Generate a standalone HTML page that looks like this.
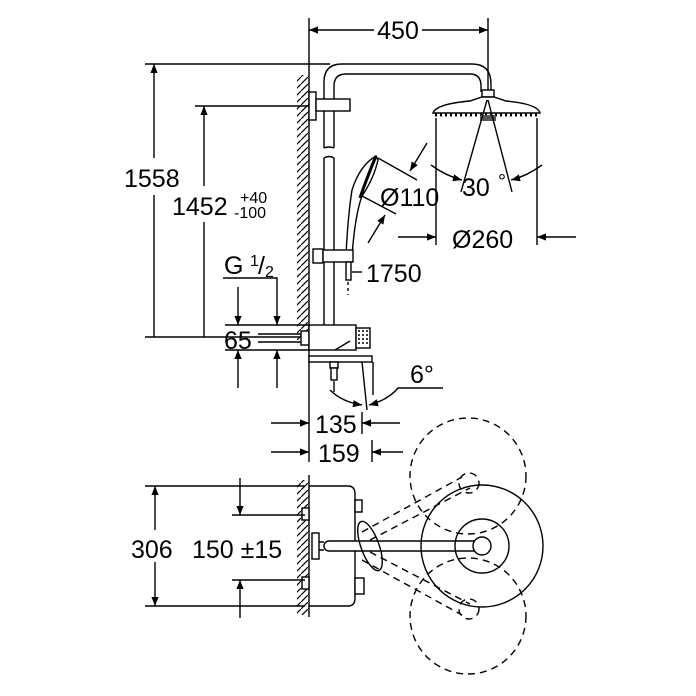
<!DOCTYPE html>
<html><head><style>
html,body{margin:0;padding:0;background:#fff;}
svg{display:block;font-family:"Liberation Sans",Arial,sans-serif;}
</style></head><body>
<svg width="696" height="696" viewBox="0 0 696 696" xmlns="http://www.w3.org/2000/svg">
<defs>
<marker id="a" viewBox="0 0 10 10" refX="10" refY="5" markerWidth="16" markerHeight="9" orient="auto-start-reverse" markerUnits="userSpaceOnUse">
<path d="M0,1 L10,5 L0,9 Z" fill="#000"/></marker>
<pattern id="h" width="7" height="7" patternUnits="userSpaceOnUse">
<path d="M0,7 L7,0" stroke="#000" stroke-width="1.2"/></pattern>
</defs>
<g stroke="#000" stroke-width="1.4" fill="none">
<line x1="309" y1="18" x2="309" y2="462"/>
<rect x="297" y="75" width="12" height="265" fill="url(#h)" stroke="none"/>
<line x1="488" y1="18" x2="488" y2="92"/>
<line x1="309" y1="30" x2="374" y2="30" marker-start="url(#a)"/>
<line x1="422" y1="30" x2="488" y2="30" marker-end="url(#a)"/>
<line x1="145" y1="64" x2="330" y2="64"/>
<line x1="145" y1="337" x2="300" y2="337"/>
<line x1="154" y1="64" x2="154" y2="158" marker-start="url(#a)"/>
<line x1="154" y1="195" x2="154" y2="337"/>
<line x1="195" y1="106" x2="312" y2="106"/>
<line x1="204" y1="106" x2="204" y2="186" marker-start="url(#a)"/>
<line x1="204" y1="222" x2="204" y2="337"/>
<path d="M324,148 L324,82 Q324,64 342,64 L472,64 Q491,64 491,84 L491,92"/>
<path d="M334,148 L334,86 Q334,74 346,74 L470,74 Q481,74 481,86 L481,92"/>
<path d="M324,158 L324,325 M334,158 L334,325"/>
<path d="M324,148 Q329,146 334,148 M324,158 Q329,155 334,158"/>
<rect x="309" y="92" width="7" height="28" fill="#fff"/>
<rect x="316" y="99" width="34" height="12" fill="#fff"/>
<rect x="482" y="90" width="12" height="7" fill="#fff"/>
<path d="M433,113 Q436,104 470,101 L482,97 L494,97 L506,101 Q538,104 540,113 Z" fill="#fff"/>
<path d="M435,115 L538,115" stroke-width="3" stroke-dasharray="2 3"/>
<rect x="480" y="115" width="16" height="6" fill="#555" stroke="none"/>
<line x1="487" y1="100" x2="461" y2="192"/>
<line x1="488" y1="100" x2="512" y2="192"/>
<line x1="436" y1="118" x2="436" y2="245"/>
<line x1="537" y1="118" x2="537" y2="245"/>
<path d="M431,165 Q446,176 462,180" marker-end="url(#a)"/>
<path d="M542,165 Q527,176 511,180" marker-end="url(#a)"/>
<line x1="398" y1="237" x2="436" y2="237" marker-end="url(#a)"/>
<line x1="576" y1="237" x2="537" y2="237" marker-end="url(#a)"/>
<path d="M376,156 Q360,165 352,190 Q348,215 346,255 L352,256 Q355,215 362,196 Q374,178 378,160 Z" fill="#fff"/>
<path d="M376,156 Q366,180 360,198" stroke-width="3"/>
<line x1="378" y1="158" x2="417" y2="180"/>
<line x1="362" y1="196" x2="396" y2="214"/>
<line x1="427" y1="143" x2="410" y2="171" marker-end="url(#a)"/>
<line x1="368" y1="243" x2="385" y2="215" marker-end="url(#a)"/>
<rect x="313" y="249" width="10" height="14" fill="#fff"/>
<rect x="323" y="250" width="30" height="12" fill="#fff"/>
<rect x="346" y="262" width="5" height="18" fill="#fff"/>
<line x1="348" y1="282" x2="348" y2="295" stroke-dasharray="3 3"/>
<line x1="352" y1="272" x2="362" y2="272"/>
<path d="M223,278 L277,278 L277,325" marker-end="url(#a)"/>
<line x1="225" y1="325" x2="310" y2="325"/>
<line x1="225" y1="350" x2="310" y2="350"/>
<line x1="238" y1="287" x2="238" y2="325" marker-end="url(#a)"/>
<line x1="238" y1="388" x2="238" y2="350" marker-end="url(#a)"/>
<line x1="277" y1="388" x2="277" y2="350" marker-end="url(#a)"/>
<line x1="258" y1="334" x2="303" y2="334"/>
<line x1="258" y1="342" x2="303" y2="342"/>
<rect x="301" y="331" width="8" height="14" fill="#fff"/>
<rect x="309" y="325" width="47" height="25" fill="#fff"/>
<path d="M335,350 L350,341"/>
<rect x="356" y="328" width="14" height="20" fill="#fff"/>
<path d="M358,331 h10 M358,335 h10 M358,339 h10 M358,343 h10" stroke-dasharray="2 2" stroke-width="1.5"/>
<rect x="309" y="356" width="63" height="6" fill="#fff"/>
<rect x="330" y="362" width="8" height="6" fill="#fff"/>
<rect x="331" y="368" width="6" height="12" fill="#fff"/>
<line x1="334" y1="381" x2="334" y2="392"/>
<line x1="362" y1="362" x2="367" y2="410"/>
<line x1="373" y1="362" x2="373" y2="395"/>
<path d="M330,390 Q342,402 362,405" marker-end="url(#a)"/>
<path d="M443,388 L398,388 Q388,400 369,405" marker-end="url(#a)"/>
<line x1="271" y1="423" x2="309" y2="423" marker-end="url(#a)"/>
<line x1="400" y1="423" x2="362" y2="423" marker-end="url(#a)"/>
<line x1="362" y1="412" x2="362" y2="434"/>
<line x1="271" y1="452" x2="309" y2="452" marker-end="url(#a)"/>
<line x1="403" y1="452" x2="372" y2="452" marker-end="url(#a)"/>
<line x1="372" y1="440" x2="372" y2="462"/>
<line x1="309" y1="475" x2="309" y2="617"/>
<rect x="297" y="480" width="12" height="135" fill="url(#h)" stroke="none"/>
<path d="M309,486 L348,486 Q355,486 355,494 L355,598 Q355,606 348,606 L309,606"/>
<rect x="355" y="500" width="7" height="12" fill="#fff"/>
<rect x="355" y="578" width="9" height="16" fill="#fff"/>
<rect x="302" y="508" width="7" height="12" fill="#fff"/>
<rect x="302" y="577" width="7" height="12" fill="#fff"/>
<rect x="312" y="533" width="7" height="26" fill="#fff"/>
<path d="M319,542 L324,542 M319,550 L324,550"/>
<rect x="324" y="541" width="158" height="10" rx="5" fill="#fff"/>
<ellipse cx="370" cy="546" rx="9" ry="26" transform="rotate(-20 370 546)"/>
<circle cx="482" cy="546" r="61"/>
<circle cx="482" cy="546" r="27"/>
<circle cx="482" cy="546" r="9" fill="#fff"/>
<g stroke-dasharray="7 5">
<circle cx="468" cy="476" r="58"/>
<circle cx="468" cy="616" r="58"/>
<circle cx="469" cy="483" r="10"/>
<circle cx="469" cy="609" r="10"/>
<line x1="362" y1="532" x2="462" y2="477"/>
<line x1="370" y1="540" x2="470" y2="488"/>
<line x1="362" y1="560" x2="462" y2="615"/>
<line x1="370" y1="552" x2="470" y2="604"/>
</g>
<line x1="145" y1="486" x2="305" y2="486"/>
<line x1="145" y1="606" x2="305" y2="606"/>
<line x1="155" y1="486" x2="155" y2="530" marker-start="url(#a)"/>
<line x1="155" y1="562" x2="155" y2="606" marker-end="url(#a)"/>
<line x1="232" y1="515" x2="305" y2="515"/>
<line x1="232" y1="580" x2="305" y2="580"/>
<line x1="240" y1="478" x2="240" y2="515" marker-end="url(#a)"/>
<line x1="240" y1="618" x2="240" y2="580" marker-end="url(#a)"/>
</g>
<g font-size="25" fill="#000">
<text x="398" y="39" text-anchor="middle">450</text>
<text x="124" y="187">1558</text>
<text x="172" y="215">1452</text>
<text x="240" y="203" font-size="16">+40</text>
<text x="234" y="218" font-size="16">-100</text>
<text x="224" y="274">G</text>
<text x="250" y="266" font-size="16">1</text><text x="258" y="274">/</text><text x="265" y="277" font-size="16">2</text>
<text x="224" y="349">65</text>
<text x="380" y="206">Ø110</text>
<text x="462" y="196">30</text>
<text x="498" y="188" font-size="20">°</text>
<text x="452" y="248">Ø260</text>
<text x="366" y="282">1750</text>
<text x="410" y="383">6°</text>
<text x="315" y="433">135</text>
<text x="318" y="462">159</text>
<text x="131" y="558">306</text>
<text x="192" y="558">150 ±15</text>
</g>
</svg>
</body></html>
